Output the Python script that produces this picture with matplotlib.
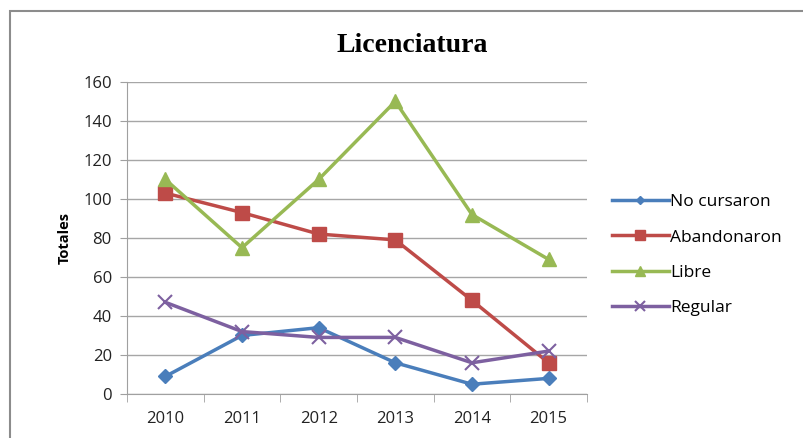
import matplotlib
matplotlib.use("Agg")
import matplotlib.pyplot as plt
from matplotlib.patches import Rectangle

# Chart data
years = ["2010", "2011", "2012", "2013", "2014", "2015"]
no_cursaron = [9, 30, 34, 16, 5, 8]
abandonaron = [103, 93, 82, 79, 48, 16]
libre = [110, 75, 110, 150, 92, 69]
regular = [47, 32, 29, 29, 16, 22]
y_ticks = [0, 20, 40, 60, 80, 100, 120, 140, 160]

plt.rcParams['font.family'] = ['Open Sans', 'DejaVu Sans']

fig = plt.figure(figsize=(8.04, 4.38), dpi=100)
ax = fig.add_axes([0.158, 0.1005, 0.572, 0.7125])

# outer chart frame (only left/top edges are visible in the picture)
fig.patches.append(Rectangle((10 / 804, -0.05), 1.2, 1 - 11 / 438 + 0.05,
                             transform=fig.transFigure, fill=False,
                             edgecolor='#8c8c8c', linewidth=1.5))

x = list(range(len(years)))
ax.plot(x, no_cursaron, color='#4a7ebb', marker='D', markersize=7,
        linewidth=2.5, label='No cursaron', zorder=3)
ax.plot(x, abandonaron, color='#be4b48', marker='s', markersize=10,
        linewidth=2.5, label='Abandonaron', zorder=3)
ax.plot(x, libre, color='#98b954', marker='^', markersize=10,
        linewidth=2.5, label='Libre', zorder=3)
ax.plot(x, regular, color='#7d60a0', marker='x', markersize=10,
        markeredgewidth=1.5, linewidth=2.5, label='Regular', zorder=3)

ax.set_xlim(-0.5, len(years) - 0.5)
ax.set_ylim(0, 160)
ax.set_yticks(y_ticks)
ax.set_xticks(x)
ax.set_xticklabels(years)
ax.set_xticks([i - 0.5 for i in range(len(years) + 1)], minor=True)
ax.tick_params(axis='x', which='major', length=0, labelsize=12, pad=12,
               colors='#222222')
ax.tick_params(axis='x', which='minor', length=6, color='#a0a0a0',
               direction='out')
ax.tick_params(axis='y', length=5, color='#a0a0a0', labelsize=12,
               colors='#222222', pad=6)

ax.grid(axis='y', color='#a6a6a6', linewidth=1)
ax.set_axisbelow(True)
for side in ['top', 'right']:
    ax.spines[side].set_visible(False)
ax.spines['left'].set_color('#a0a0a0')
ax.spines['bottom'].set_color('#a0a0a0')

ax.set_ylabel("Totales", fontsize=10.5, fontweight='bold', labelpad=8)
fig.text(0.513, 0.895, "Licenciatura", fontsize=20, fontweight='bold',
         family='Liberation Serif', ha='center', va='center')

ax.legend(loc='center left', bbox_to_anchor=(1.054, 0.445), frameon=False,
          fontsize=12.5, handlelength=3.3, handletextpad=0.05,
          labelspacing=1.1, markerscale=0.65, borderaxespad=0, borderpad=0)

fig.savefig("out.png", dpi=100)
